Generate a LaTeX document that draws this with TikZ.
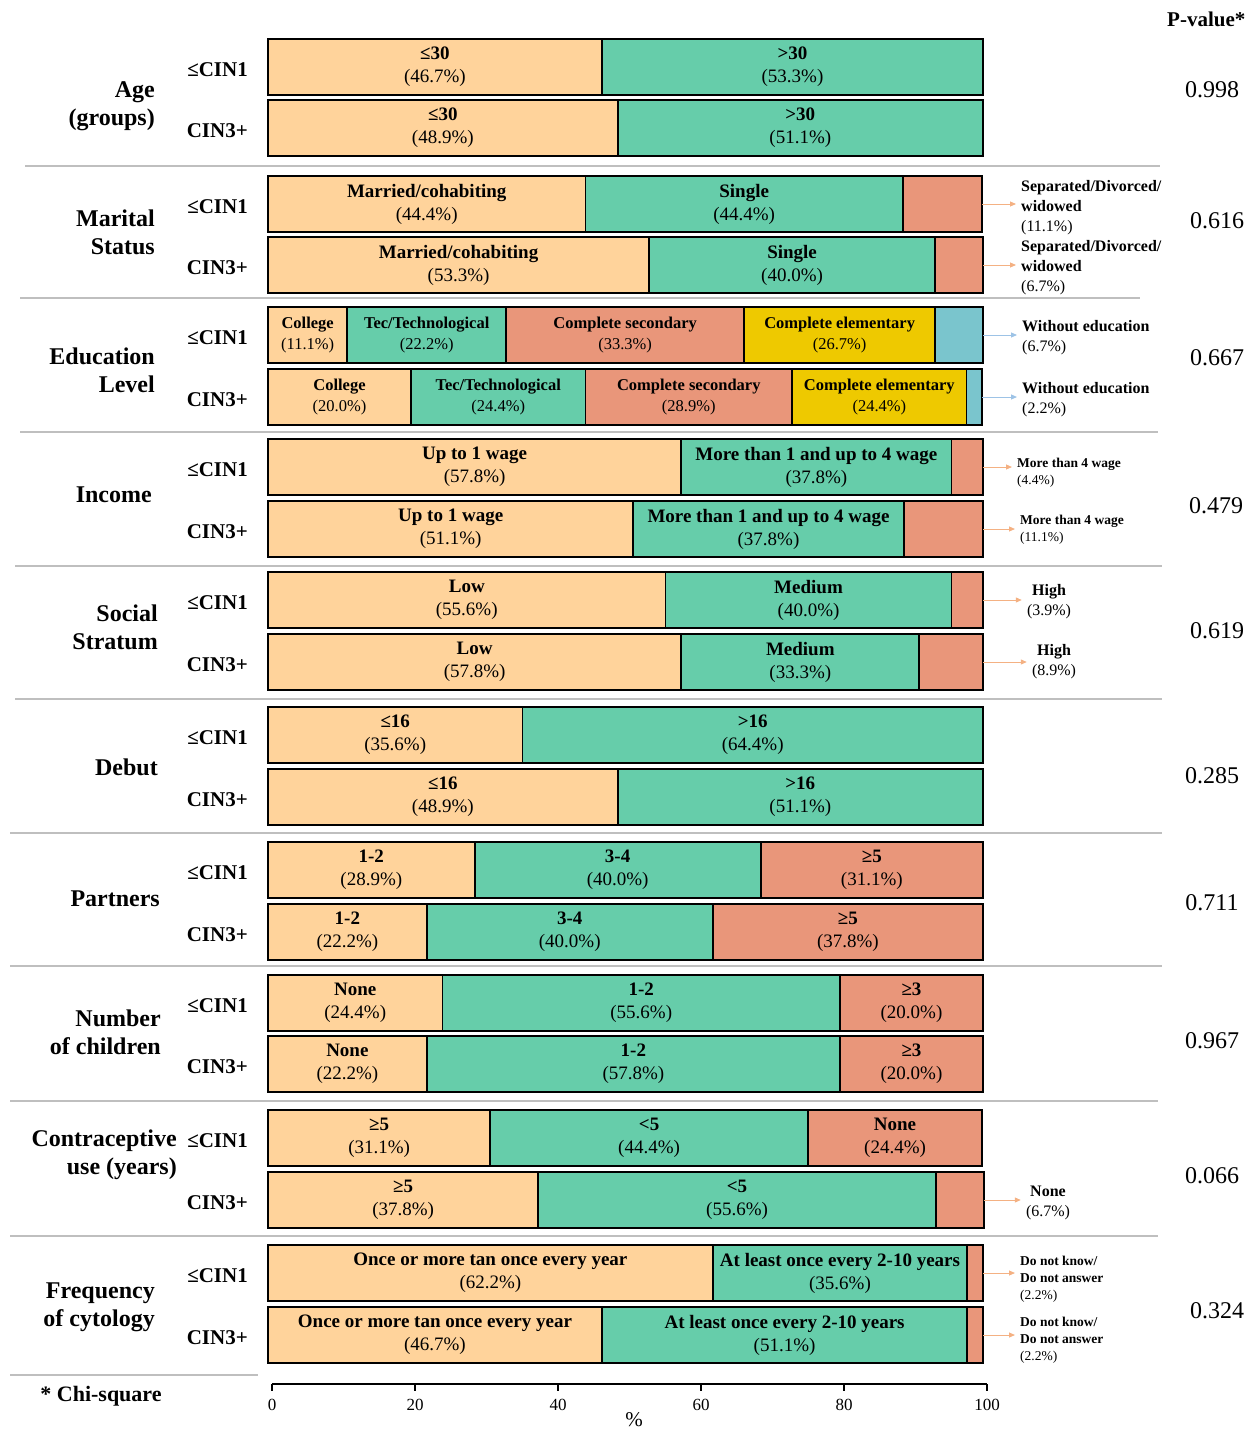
\documentclass[tikz,border=0pt]{standalone}
\usepackage{fontspec}
\setmainfont{Liberation Serif}
\usetikzlibrary{positioning,arrows.meta}
\definecolor{peach}{HTML}{FFD39B}
\definecolor{mint}{HTML}{66CDAA}
\definecolor{salmon}{HTML}{E9967A}
\definecolor{gold}{HTML}{EEC900}
\definecolor{cadet}{HTML}{7AC5CD}
\definecolor{arrorange}{HTML}{F4B183}
\definecolor{arrblue}{HTML}{9DC3E6}
\definecolor{sepgray}{HTML}{BFBFBF}

\begin{document}
\begin{tikzpicture}[x=1pt, y=-1pt]
\tikzset{node distance=0pt,
    seg/.style={draw, line width=1.8pt, inner sep=0pt, outer sep=0pt, minimum height=56pt,
        minimum width=#1*7.15pt, align=center, font=\fontsize{19}{23}\selectfont},
    eseg/.style={seg=#1, font=\fontsize{16.5}{21}\selectfont},
    grp/.style={inner sep=0pt, yshift=-3pt, font=\fontsize{21}{24}\selectfont\bfseries},
    cat/.style={inner sep=0pt, anchor=east, align=right, font=\fontsize{24}{28}\selectfont\bfseries},
    pval/.style={font=\fontsize{24}{28}\selectfont},
    note/.style={inner sep=0pt, anchor=west, align=left, font=\fontsize{16}{20}\selectfont},
    snote/.style={note, font=\fontsize{13.5}{17}\selectfont},
    arr/.style={-{Triangle[length=6pt,width=5pt]}, line width=1pt, arrorange, shorten >=5pt},
    sep/.style={sepgray, line width=1.5pt}
}
\useasboundingbox (0,0) rectangle (1250,1432);

  % age
  \node[seg=46.7, fill=peach, anchor=north west] (ag1a) at (268,39) {\textbf{≤30}\\(46.7\%)};
  \node[seg=53.3, fill=mint, right=of ag1a] (ag1b) {\textbf{>30}\\(53.3\%)};
  \node[seg=48.9, fill=peach, anchor=north west] (ag2a) at (268,100) {\textbf{≤30}\\(48.9\%)};
  \node[seg=51.1, fill=mint, right=of ag2a] (ag2b) {\textbf{>30}\\(51.1\%)};
  \node[grp, left=20pt of ag1a] (ag1l) {≤CIN1};
  \node[grp, left=20pt of ag2a] (ag2l) {CIN3+};
  \node[cat] (agc) at (155,106) {Age\\(groups)};
  \node[pval] (agp) at (1212,90) {0.998};
  \draw[sep] (25,166) -- (1160,166);

  % marital status
  \node[seg=44.4, fill=peach, anchor=north west] (ma1a) at (268,176) {\textbf{Married/cohabiting}\\(44.4\%)};
  \node[seg=44.4, fill=mint, right=of ma1a] (ma1b) {\textbf{Single}\\(44.4\%)};
  \node[seg=11.1, fill=salmon, right=of ma1b] (ma1c) {};
  \node[seg=53.3, fill=peach, anchor=north west] (ma2a) at (268,237) {\textbf{Married/cohabiting}\\(53.3\%)};
  \node[seg=40.0, fill=mint, right=of ma2a] (ma2b) {\textbf{Single}\\(40.0\%)};
  \node[seg=6.7, fill=salmon, right=of ma2b] (ma2c) {};
  \node[grp, left=20pt of ma1a] (ma1l) {≤CIN1};
  \node[grp, left=20pt of ma2a] (ma2l) {CIN3+};
  \node[cat] (mac) at (155,232) {Marital\\Status};
  \node[note] (ma1n) at (1021,208) {\textbf{Separated/Divorced/}\\\textbf{widowed}\\(11.1\%)};
  \node[note] (ma2n) at (1021,268) {\textbf{Separated/Divorced/}\\\textbf{widowed}\\(6.7\%)};
  \draw[arr] (ma1c.east) -- (ma1c.east -| ma1n.west);
  \draw[arr] (ma2c.east) -- (ma2c.east -| ma2n.west);
  \node[pval] (map) at (1217,221) {0.616};
  \draw[sep] (20,298) -- (1140,298);

  % education
  \node[eseg=11.1, fill=peach, anchor=north west] (ed1a) at (268,307) {\textbf{College}\\(11.1\%)};
  \node[eseg=22.2, fill=mint, right=of ed1a] (ed1b) {\textbf{Tec/Technological}\\(22.2\%)};
  \node[eseg=33.3, fill=salmon, right=of ed1b] (ed1c) {\textbf{Complete secondary}\\(33.3\%)};
  \node[eseg=26.7, fill=gold, right=of ed1c] (ed1d) {\textbf{Complete elementary}\\(26.7\%)};
  \node[eseg=6.7, fill=cadet, right=of ed1d] (ed1e) {};
  \node[eseg=20.0, fill=peach, anchor=north west] (ed2a) at (268,369) {\textbf{College}\\(20.0\%)};
  \node[eseg=24.4, fill=mint, right=of ed2a] (ed2b) {\textbf{Tec/Technological}\\(24.4\%)};
  \node[eseg=28.9, fill=salmon, right=of ed2b] (ed2c) {\textbf{Complete secondary}\\(28.9\%)};
  \node[eseg=24.4, fill=gold, right=of ed2c] (ed2d) {\textbf{Complete elementary}\\(24.4\%)};
  \node[eseg=2.2, fill=cadet, right=of ed2d] (ed2e) {};
  \node[grp, left=20pt of ed1a] (ed1l) {≤CIN1};
  \node[grp, left=20pt of ed2a] (ed2l) {CIN3+};
  \node[cat] (edc) at (155,370) {Education\\Level};
  \node[note] (ed1n) at (1022,338) {\textbf{Without education}\\(6.7\%)};
  \node[note] (ed2n) at (1022,400) {\textbf{Without education}\\(2.2\%)};
  \draw[arr, arrblue] (ed1e.east) -- (ed1e.east -| ed1n.west);
  \draw[arr, arrblue] (ed2e.east) -- (ed2e.east -| ed2n.west);
  \node[pval] (edp) at (1217,358) {0.667};
  \draw[sep] (20,432) -- (1158,432);

  % income
  \node[seg=57.8, fill=peach, anchor=north west] (in1a) at (268,439) {\textbf{Up to 1 wage}\\(57.8\%)};
  \node[seg=37.8, fill=mint, right=of in1a] (in1b) {\textbf{More than 1 and up to 4 wage}\\(37.8\%)};
  \node[seg=4.4, fill=salmon, right=of in1b] (in1c) {};
  \node[seg=51.1, fill=peach, anchor=north west] (in2a) at (268,501) {\textbf{Up to 1 wage}\\(51.1\%)};
  \node[seg=37.8, fill=mint, right=of in2a] (in2b) {\textbf{More than 1 and up to 4 wage}\\(37.8\%)};
  \node[seg=11.1, fill=salmon, right=of in2b] (in2c) {};
  \node[grp, left=20pt of in1a] (in1l) {≤CIN1};
  \node[grp, left=20pt of in2a] (in2l) {CIN3+};
  \node[cat] (inc) at (152,495) {Income};
  \node[snote] (in1n) at (1017,473) {\textbf{More than 4 wage}\\(4.4\%)};
  \node[snote] (in2n) at (1020,530) {\textbf{More than 4 wage}\\(11.1\%)};
  \draw[arr] (in1c.east) -- (in1c.east -| in1n.west);
  \draw[arr] (in2c.east) -- (in2c.east -| in2n.west);
  \node[pval] (inp) at (1216,506) {0.479};
  \draw[sep] (15,566) -- (1162,566);

  % social stratum
  \node[seg=55.6, fill=peach, anchor=north west] (so1a) at (268,572) {\textbf{Low}\\(55.6\%)};
  \node[seg=40.0, fill=mint, right=of so1a] (so1b) {\textbf{Medium}\\(40.0\%)};
  \node[seg=4.4, fill=salmon, right=of so1b] (so1c) {};
  \node[seg=57.8, fill=peach, anchor=north west] (so2a) at (268,634) {\textbf{Low}\\(57.8\%)};
  \node[seg=33.3, fill=mint, right=of so2a] (so2b) {\textbf{Medium}\\(33.3\%)};
  \node[seg=8.9, fill=salmon, right=of so2b] (so2c) {};
  \node[grp, left=20pt of so1a] (so1l) {≤CIN1};
  \node[grp, left=20pt of so2a] (so2l) {CIN3+};
  \node[cat] (soc) at (158,627) {Social\\Stratum};
  \node[note, anchor=center, align=center] (so1n) at (1049,602) {\textbf{High}\\(3.9\%)};
  \node[note, anchor=center, align=center] (so2n) at (1054,662) {\textbf{High}\\(8.9\%)};
  \draw[arr] (so1c.east) -- (so1c.east -| so1n.west);
  \draw[arr] (so2c.east) -- (so2c.east -| so2n.west);
  \node[pval] (sop) at (1217,631) {0.619};
  \draw[sep] (15,699) -- (1162,699);

  % debut
  \node[seg=35.6, fill=peach, anchor=north west] (de1a) at (268,707) {\textbf{≤16}\\(35.6\%)};
  \node[seg=64.4, fill=mint, right=of de1a] (de1b) {\textbf{>16}\\(64.4\%)};
  \node[seg=48.9, fill=peach, anchor=north west] (de2a) at (268,769) {\textbf{≤16}\\(48.9\%)};
  \node[seg=51.1, fill=mint, right=of de2a] (de2b) {\textbf{>16}\\(51.1\%)};
  \node[grp, left=20pt of de1a] (de1l) {≤CIN1};
  \node[grp, left=20pt of de2a] (de2l) {CIN3+};
  \node[cat] (dec) at (158,767) {Debut};
  \node[pval] (dep) at (1212,776) {0.285};
  \draw[sep] (10,833) -- (1162,833);

  % partners
  \node[seg=28.9, fill=peach, anchor=north west] (pa1a) at (268,842) {\textbf{1-2}\\(28.9\%)};
  \node[seg=40.0, fill=mint, right=of pa1a] (pa1b) {\textbf{3-4}\\(40.0\%)};
  \node[seg=31.1, fill=salmon, right=of pa1b] (pa1c) {\textbf{≥5}\\(31.1\%)};
  \node[seg=22.2, fill=peach, anchor=north west] (pa2a) at (268,904) {\textbf{1-2}\\(22.2\%)};
  \node[seg=40.0, fill=mint, right=of pa2a] (pa2b) {\textbf{3-4}\\(40.0\%)};
  \node[seg=37.8, fill=salmon, right=of pa2b] (pa2c) {\textbf{≥5}\\(37.8\%)};
  \node[grp, left=20pt of pa1a] (pa1l) {≤CIN1};
  \node[grp, left=20pt of pa2a] (pa2l) {CIN3+};
  \node[cat] (pac) at (160,899) {Partners};
  \node[pval] (pap) at (1212,903) {0.711};
  \draw[sep] (10,966) -- (1162,966);

  % number of children
  \node[seg=24.4, fill=peach, anchor=north west] (ch1a) at (268,975) {\textbf{None}\\(24.4\%)};
  \node[seg=55.6, fill=mint, right=of ch1a] (ch1b) {\textbf{1-2}\\(55.6\%)};
  \node[seg=20.0, fill=salmon, right=of ch1b] (ch1c) {\textbf{≥3}\\(20.0\%)};
  \node[seg=22.2, fill=peach, anchor=north west] (ch2a) at (268,1036) {\textbf{None}\\(22.2\%)};
  \node[seg=57.8, fill=mint, right=of ch2a] (ch2b) {\textbf{1-2}\\(57.8\%)};
  \node[seg=20.0, fill=salmon, right=of ch2b] (ch2c) {\textbf{≥3}\\(20.0\%)};
  \node[grp, left=20pt of ch1a] (ch1l) {≤CIN1};
  \node[grp, left=20pt of ch2a] (ch2l) {CIN3+};
  \node[cat] (chc) at (161,1032) {Number\\of children};
  \node[pval] (chp) at (1212,1041) {0.967};
  \draw[sep] (10,1101) -- (1158,1101);

  % contraceptive use
  \node[seg=31.1, fill=peach, anchor=north west] (co1a) at (268,1110) {\textbf{≥5}\\(31.1\%)};
  \node[seg=44.4, fill=mint, right=of co1a] (co1b) {\textbf{<5}\\(44.4\%)};
  \node[seg=24.4, fill=salmon, right=of co1b] (co1c) {\textbf{None}\\(24.4\%)};
  \node[seg=37.8, fill=peach, anchor=north west] (co2a) at (268,1172) {\textbf{≥5}\\(37.8\%)};
  \node[seg=55.6, fill=mint, right=of co2a] (co2b) {\textbf{<5}\\(55.6\%)};
  \node[seg=6.7, fill=salmon, right=of co2b] (co2c) {};
  \node[grp, left=20pt of co1a] (co1l) {≤CIN1};
  \node[grp, left=20pt of co2a] (co2l) {CIN3+};
  \node[cat] (coc) at (177,1155) {Contraceptive\\use (years)};
  \node[note, anchor=center, align=center] (co2n) at (1048,1203) {\textbf{None}\\(6.7\%)};
  \draw[arr] (co2c.east) -- (co2c.east -| co2n.west);
  \node[pval] (cop) at (1212,1176) {0.066};
  \draw[sep] (10,1236) -- (1158,1236);

  % frequency of cytology
  \node[seg=62.2, fill=peach, anchor=north west] (cy1a) at (268,1245) {\textbf{Once or more tan once every year}\\(62.2\%)};
  \node[seg=35.6, fill=mint, right=of cy1a] (cy1b) {\textbf{At least once every 2-10 years}\\(35.6\%)};
  \node[seg=2.2, fill=salmon, right=of cy1b] (cy1c) {};
  \node[seg=46.7, fill=peach, anchor=north west] (cy2a) at (268,1307) {\textbf{Once or more tan once every year}\\(46.7\%)};
  \node[seg=51.1, fill=mint, right=of cy2a] (cy2b) {\textbf{At least once every 2-10 years}\\(51.1\%)};
  \node[seg=2.2, fill=salmon, right=of cy2b] (cy2c) {};
  \node[grp, left=20pt of cy1a] (cy1l) {≤CIN1};
  \node[grp, left=20pt of cy2a] (cy2l) {CIN3+};
  \node[cat] (cyc) at (155,1307) {Frequency\\of cytology};
  \node[snote] (cy1n) at (1020,1279) {\textbf{Do not know/}\\\textbf{Do not answer}\\(2.2\%)};
  \node[snote] (cy2n) at (1020,1340) {\textbf{Do not know/}\\\textbf{Do not answer}\\(2.2\%)};
  \draw[arr] (cy1c.east) -- (cy1c.east -| cy1n.west);
  \draw[arr] (cy2c.east) -- (cy2c.east -| cy2n.west);
  \node[pval] (cyp) at (1217,1311) {0.324};
  \draw[sep] (10,1375) -- (258,1375);

  % axis and notes
  \coordinate (ax0) at (272,1384);
  \coordinate (ax1) at (987,1384);
  \draw[line width=1.5pt] (ax0) -- (ax1);
  \foreach \v in {0,20,...,100} {
    \draw[line width=1.5pt] (272+7.15*\v,1384) -- ++(0,7);
    \node[font=\fontsize{17}{20}\selectfont] (t\v) at (272+7.15*\v,1405) {\v};
  }
  \node[font=\fontsize{21}{24}\selectfont, inner sep=0pt] (pct) at (634,1420) {\%};
  \node[font=\fontsize{22}{24}\selectfont\bfseries] (chi) at (101,1396) {* Chi-square};
  \node[font=\fontsize{21}{24}\selectfont\bfseries, anchor=west, inner sep=0pt] (ptitle) at (1167,19) {P-value*};
\end{tikzpicture}
\end{document}
